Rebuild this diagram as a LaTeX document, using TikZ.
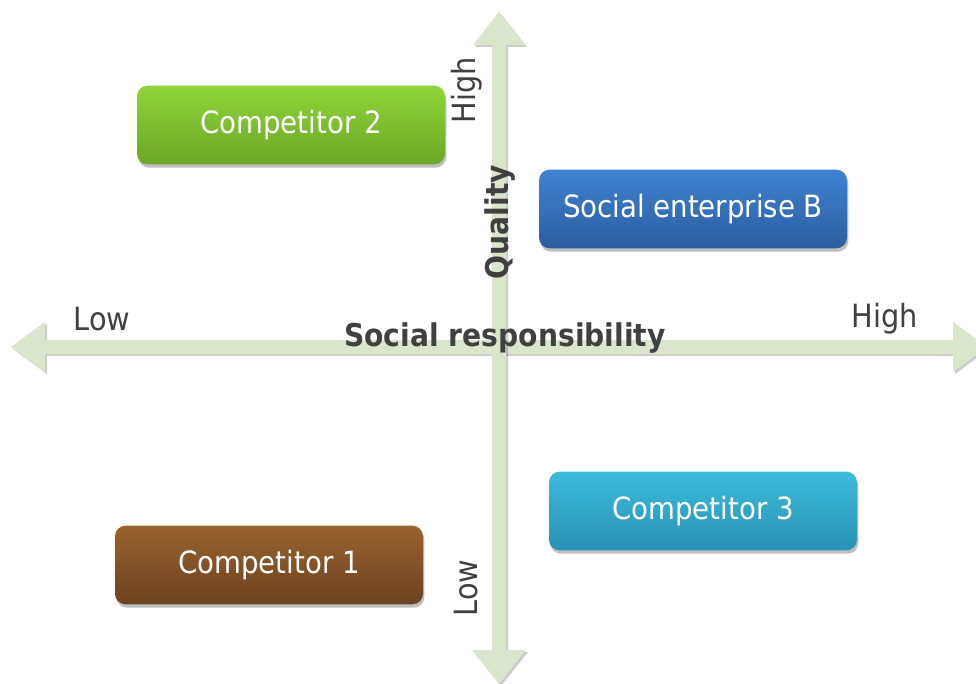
\documentclass[tikz,border=0pt]{standalone}
\usepackage{fontspec}
\setmainfont{DejaVu Sans Condensed}
\usetikzlibrary{shadows}
\definecolor{axisgreen}{HTML}{D9E6CC}
\definecolor{labelgray}{HTML}{404040}
\definecolor{greentop}{HTML}{8FD53A}
\definecolor{greenbot}{HTML}{6CA626}
\definecolor{bluetop}{HTML}{3F82D2}
\definecolor{bluebot}{HTML}{2C5E9F}
\definecolor{cyantop}{HTML}{3BBCDC}
\definecolor{cyanbot}{HTML}{2A91B3}
\definecolor{browntop}{HTML}{9A622E}
\definecolor{brownbot}{HTML}{6B4220}
\tikzset{
  axisarrow/.style={fill=axisgreen, draw=none,
    drop shadow={shadow xshift=1.5pt, shadow yshift=-1.5pt, opacity=0.2, fill=black}},
  quadbox/.style={rounded corners=8pt, minimum width=231pt, minimum height=59pt,
    text=white, font=\fontsize{23}{27}\selectfont,
    drop shadow={shadow xshift=1pt, shadow yshift=-2.5pt, opacity=0.25, fill=black}},
  axislabel/.style={text=labelgray, font=\fontsize{24}{28}\selectfont, inner sep=0pt},
  axistitle/.style={text=labelgray, font=\bfseries\fontsize{23.5}{28}\selectfont, inner sep=0pt},
}
\begin{document}
\begin{tikzpicture}[x=0.75pt, y=-0.75pt]
\useasboundingbox (0,0) rectangle (976,684);
\fill[white] (0,0) rectangle (976,684);

% horizontal axis: double-headed arrow
\path[axisarrow] (11,347) -- (45,322) -- (45,340) -- (953,340) -- (953,322)
  -- (987,347) -- (953,372) -- (953,354) -- (45,354) -- (45,372) -- cycle;
% vertical axis: double-headed arrow
\path[axisarrow] (499,12) -- (525,45) -- (506,45) -- (506,650) -- (526,650)
  -- (499,684) -- (472,650) -- (492,650) -- (492,45) -- (473,45) -- cycle;

% axis end labels
\node[axislabel] (xlow)  at (102,319) {Low};
\node[axislabel] (xhigh) at (885,319) {High};
\node[axislabel, rotate=90] (yhigh) at (467,90) {High};
\node[axislabel, rotate=90] (ylow)  at (466,588) {Low};

% axis titles
\node[axistitle] (xtitle) at (505,338) {Social responsibility};
\node[axistitle, rotate=90] (ytitle) at (500,222) {Quality};

% positioned players
\node[quadbox, top color=greentop, bottom color=greenbot] (c2) at (291,125) {Competitor 2};
\node[quadbox, top color=bluetop, bottom color=bluebot] (seb) at (693,209) {Social enterprise B};
\node[quadbox, top color=cyantop, bottom color=cyanbot] (c3) at (703,511) {Competitor 3};
\node[quadbox, top color=browntop, bottom color=brownbot] (c1) at (269,565) {Competitor 1};
\end{tikzpicture}
\end{document}
